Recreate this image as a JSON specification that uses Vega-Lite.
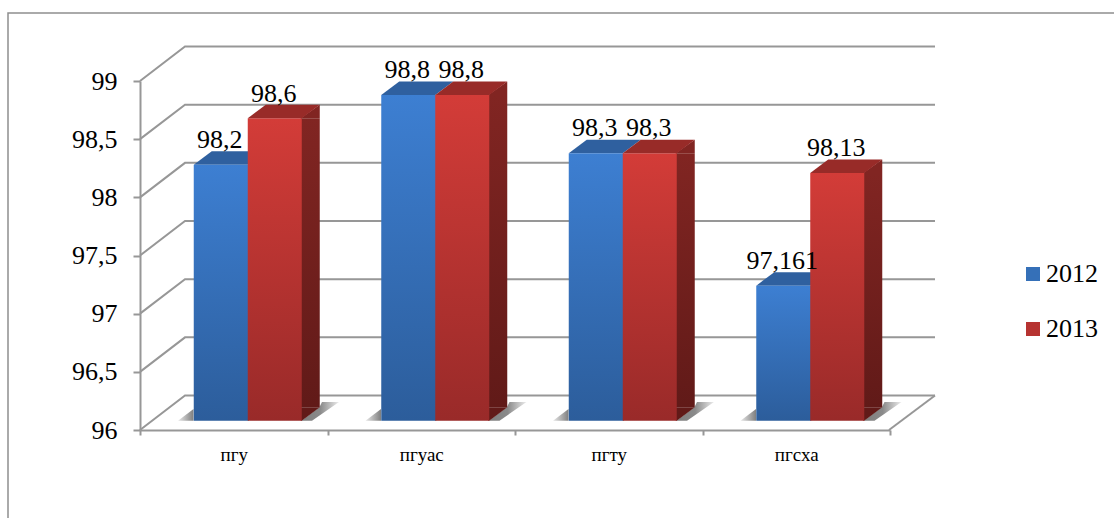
{
"$schema":"https://vega.github.io/schema/vega-lite/v6.json",
"width":748,"height":349,
"autosize":{"type":"none"},
"padding":{"left":140,"top":81,"right":226,"bottom":88},
"background":"white",
"config":{"view":{"stroke":null},"font":"Liberation Serif","text":{"font":"Liberation Serif"},"axis":{"labelFont":"Liberation Serif"},"legend":{"labelFont":"Liberation Serif"}},
"datasets":{
"bars":[
{"cat":"пгу","year":"2012","value":98.2,"label":"98,2"},
{"cat":"пгу","year":"2013","value":98.6,"label":"98,6"},
{"cat":"пгуас","year":"2012","value":98.8,"label":"98,8"},
{"cat":"пгуас","year":"2013","value":98.8,"label":"98,8"},
{"cat":"пгту","year":"2012","value":98.3,"label":"98,3"},
{"cat":"пгту","year":"2013","value":98.3,"label":"98,3"},
{"cat":"пгсха","year":"2012","value":97.161,"label":"97,161"},
{"cat":"пгсха","year":"2013","value":98.13,"label":"98,13"}],
"cats":[{"cat":"пгу"},{"cat":"пгуас"},{"cat":"пгту"},{"cat":"пгсха"}],
"ticks":[{"v":96},{"v":96.5},{"v":97},{"v":97.5},{"v":98},{"v":98.5},{"v":99}]
},
"data":{"name":"bars"},
"layer":[
{"data":{"values":[{"v":99}]},
 "mark":{"type":"point","size":4,"filled":false,"opacity":1,"stroke":"#8e8e8e","strokeWidth":1.5,"shape":"M-132 505L-132 -68L1000 -68"},
 "encoding":{"x":{"datum":"пгу","type":"nominal","bandPosition":0},"y":{"field":"v","type":"quantitative"}}},
{"data":{"name":"ticks"},
 "mark":{"type":"point","size":4,"filled":false,"opacity":1,"stroke":"#979797","strokeWidth":2,"shape":"M0 0L45 -34.5L795 -34.5"},
 "encoding":{"x":{"datum":"пгу","type":"nominal","bandPosition":0},"y":{"field":"v","type":"quantitative"}}},
{"data":{"values":[{"v":96}]},
 "mark":{"type":"point","size":4,"filled":false,"opacity":1,"stroke":"#979797","strokeWidth":2,"shape":"M749 0L795 -34.5"},
 "encoding":{"x":{"datum":"пгу","type":"nominal","bandPosition":0},"y":{"field":"v","type":"quantitative"}}},
{"data":{"name":"cats"},
 "mark":{"type":"point","size":4,"filled":true,"opacity":1,"strokeWidth":0,"shape":"M38 -9.3L53.5 -21L53.5 -9.3Z",
  "fill":{"gradient":"linear","x1":0,"y1":0,"x2":1,"y2":0,"stops":[{"offset":0,"color":"#e8e8e8"},{"offset":1,"color":"#7f7f7f"}]}},
 "encoding":{"x":{"field":"cat","type":"nominal","bandPosition":0},"y":{"datum":96,"type":"quantitative"}}},
{"data":{"name":"cats"},
 "mark":{"type":"point","size":4,"filled":true,"opacity":1,"strokeWidth":0,"shape":"M161.5 -9.3L179.5 -23L182 -28L199 -28L172 -9.3Z",
  "fill":{"gradient":"linear","x1":0,"y1":0,"x2":1,"y2":0,"stops":[{"offset":0,"color":"#7f7f7f"},{"offset":0.5,"color":"#8a8a8a"},{"offset":1,"color":"#ececec"}]}},
 "encoding":{"x":{"field":"cat","type":"nominal","bandPosition":0},"y":{"datum":96,"type":"quantitative"}}},
{"transform":[{"filter":"datum.year=='2012'"}],
 "mark":{"type":"point","size":4,"filled":true,"opacity":1,"strokeWidth":0,"fill":"#2f609f","shape":"M-40 -9.3L14 -9.3L32 -22.8L-22 -22.8Z"},
 "encoding":{"x":{"field":"cat","type":"nominal"},"y":{"field":"value","type":"quantitative"}}},
{"transform":[{"filter":"datum.year=='2013'"}],
 "mark":{"type":"bar","width":19,"xOffset":76.5,"x2Offset":76.5,"yOffset":-9.3,"y2Offset":-22.8,
  "fill":{"gradient":"linear","x1":0,"y1":0,"x2":0,"y2":1,"stops":[{"offset":0,"color":"#812522"},{"offset":1,"color":"#611a18"}]}},
 "encoding":{"x":{"field":"cat","type":"nominal"},"y":{"field":"value","type":"quantitative"},"y2":{"datum":96}}},
{"transform":[{"filter":"datum.year=='2013'"}],
 "mark":{"type":"point","size":4,"filled":true,"opacity":1,"strokeWidth":0,"fill":"#812522","shape":"M67 -9.3L86 -9.3L86 -22.8Z"},
 "encoding":{"x":{"field":"cat","type":"nominal"},"y":{"field":"value","type":"quantitative"}}},
{"data":{"name":"cats"},
 "mark":{"type":"point","size":4,"filled":true,"opacity":1,"strokeWidth":0,"fill":"#611a18","shape":"M67 -22.8L67 -9.3L68 -9.3L86 -22.8Z"},
 "encoding":{"x":{"field":"cat","type":"nominal"},"y":{"datum":96,"type":"quantitative"}}},
{"mark":{"type":"bar","width":54,"opacity":0},
 "encoding":{
  "x":{"field":"cat","type":"nominal","sort":null,
   "scale":{"domain":["пгу","пгуас","пгту","пгсха"],"range":[0,750],"paddingInner":0,"paddingOuter":0},
   "axis":{"title":null,"labelAngle":0,"labelAlign":"center","labelFontSize":19,"labelColor":"#000","labelPadding":19,"tickBand":"extent","tickSize":5,"tickWidth":2,"tickColor":"#979797","domainColor":"#979797","domainWidth":2,"grid":false}},
  "y":{"field":"value","type":"quantitative",
   "scale":{"domain":[96,99],"nice":false,"zero":false},
   "axis":{"title":null,"values":[96,96.5,97,97.5,98,98.5,99],"labelExpr":"replace(format(datum.value,'.1~f'),'.',',')","labelFontSize":26,"labelColor":"#000","labelPadding":16,"tickSize":7,"tickWidth":2,"tickColor":"#979797","domainColor":"#979797","domainWidth":2,"grid":false}},
  "y2":{"datum":96},
  "color":{"field":"year","type":"nominal",
   "scale":{"domain":["2012","2013"],"range":["#3570b8","#b63331"]},
   "legend":{"title":null,"orient":"none","legendX":880,"legendY":180,"symbolType":"square","symbolSize":196,"symbolStrokeWidth":0,"symbolOpacity":1,"labelFontSize":26,"labelColor":"#000","labelOffset":0,"rowPadding":29}}
 }},
{"transform":[{"filter":"datum.year=='2012'"}],
 "mark":{"type":"bar","width":55,"xOffset":-12.5,"x2Offset":-12.5,"yOffset":-9.3,"y2Offset":-9.3,
  "fill":{"gradient":"linear","x1":0,"y1":0,"x2":0,"y2":1,"stops":[{"offset":0,"color":"#3d7fd2"},{"offset":1,"color":"#2c5d9b"}]}},
 "encoding":{"x":{"field":"cat","type":"nominal"},"y":{"field":"value","type":"quantitative"},"y2":{"datum":96}}},
{"transform":[{"filter":"datum.year=='2013'"}],
 "mark":{"type":"bar","width":54,"xOffset":41,"x2Offset":41,"yOffset":-9.3,"y2Offset":-9.3,
  "fill":{"gradient":"linear","x1":0,"y1":0,"x2":0,"y2":1,"stops":[{"offset":0,"color":"#d33c38"},{"offset":1,"color":"#992a29"}]}},
 "encoding":{"x":{"field":"cat","type":"nominal"},"y":{"field":"value","type":"quantitative"},"y2":{"datum":96}}},
{"transform":[{"filter":"datum.year=='2013'"}],
 "mark":{"type":"point","size":4,"filled":true,"opacity":1,"strokeWidth":0,"fill":"#982b28","shape":"M14 -9.3L68 -9.3L86 -22.8L32 -22.8Z"},
 "encoding":{"x":{"field":"cat","type":"nominal"},"y":{"field":"value","type":"quantitative"}}},
{"transform":[{"filter":"datum.year=='2012'"}],
 "mark":{"type":"text","font":"Liberation Serif","fontSize":26,"color":"#000","baseline":"alphabetic","align":"center","dx":-14,"dy":-26},
 "encoding":{"x":{"field":"cat","type":"nominal"},"y":{"field":"value","type":"quantitative"},"text":{"field":"label"}}},
{"transform":[{"filter":"datum.year=='2013'"}],
 "mark":{"type":"text","font":"Liberation Serif","fontSize":26,"color":"#000","baseline":"alphabetic","align":"center","dx":40,"dy":-26},
 "encoding":{"x":{"field":"cat","type":"nominal"},"y":{"field":"value","type":"quantitative"},"text":{"field":"label"}}}
]
}
